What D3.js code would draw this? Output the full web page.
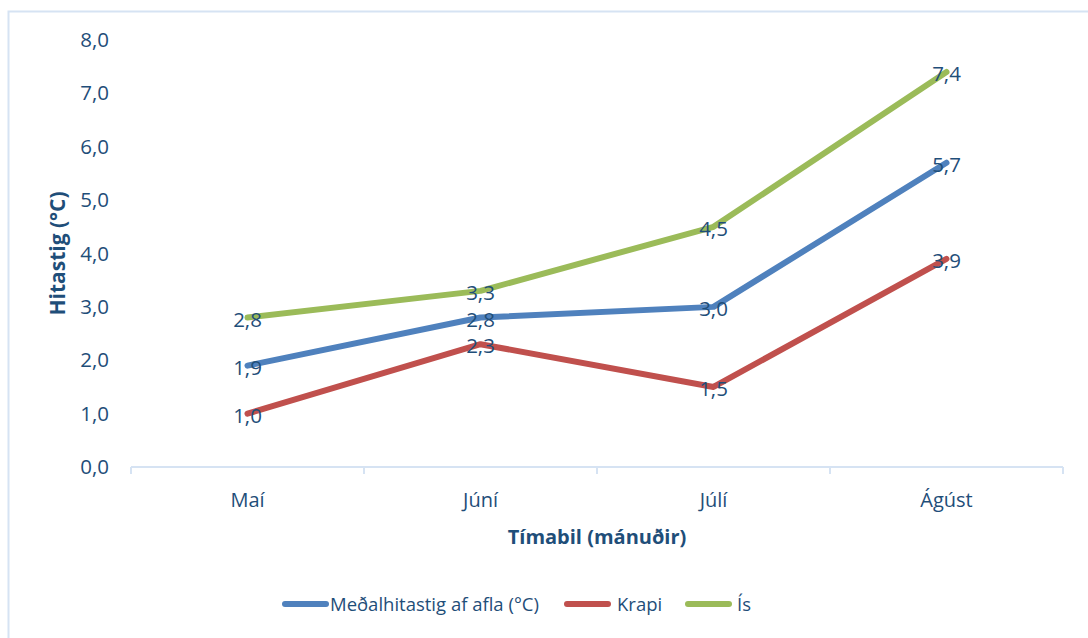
<!DOCTYPE html>
<html>
<head>
<meta charset="utf-8">
<script src="https://cdn.jsdelivr.net/npm/d3@7"></script>
<style>
  body { margin: 0; background: #fff; }
  text { font-family: "Open Sans", "Noto Sans", sans-serif; fill: #1F4E79; }
</style>
</head>
<body>
<svg id="chart"></svg>
<script>
// data
const months = ["Maí", "Júní", "Júlí", "Ágúst"];
const seriesNames = ["Meðalhitastig af afla (°C)", "Krapi", "Ís"];
const medal = [1.9, 2.8, 3.0, 5.7];
const krapi = [1.0, 2.3, 1.5, 3.9];
const is = [2.8, 3.3, 4.5, 7.4];
const yTicks = [0, 1, 2, 3, 4, 5, 6, 7, 8];
const colors = ["#4F81BD", "#C0504D", "#9BBB59"];

const width = 1088;
const height = 638;
const margin = {top: 40, right: 25, bottom: 171, left: 131};

const svg = d3.select("#chart")
    .attr("width", width)
    .attr("height", height);

// outer chart border
svg.append("rect")
    .attr("x", 8.5).attr("y", 11.5)
    .attr("width", width + 10).attr("height", height)
    .attr("fill", "none")
    .attr("stroke", "#D6E3F3")
    .attr("stroke-width", 2);

const x = d3.scaleBand()
    .domain(months)
    .range([margin.left, width - margin.right]);

const y = d3.scaleLinear()
    .domain([0, 8])
    .range([height - margin.bottom, margin.top]);

const fmt = d => d.toFixed(1).replace(".", ",");

// y axis labels (no line)
const yAxis = svg.append("g")
    .attr("transform", `translate(${margin.left},0)`)
    .call(d3.axisLeft(y).tickValues(yTicks).tickFormat(fmt).tickSize(0).tickPadding(22));
yAxis.select(".domain").remove();
yAxis.selectAll("text").style("font-size", "20.5px").attr("fill", "#1F4E79");

// x axis
const x0 = y(0);
const xAxis = svg.append("g").attr("transform", `translate(0,${x0})`);
xAxis.append("line")
    .attr("x1", x.range()[0]).attr("x2", x.range()[1])
    .attr("stroke", "#D6E3F3").attr("stroke-width", 2);
xAxis.selectAll(".tk")
    .data(months.map(m => x(m)).concat([x.range()[1]]))
    .enter().append("line")
    .attr("x1", d => d).attr("x2", d => d)
    .attr("y1", 0).attr("y2", 7)
    .attr("stroke", "#D6E3F3").attr("stroke-width", 2);
xAxis.selectAll(".lbl")
    .data(months)
    .enter().append("text")
    .attr("x", d => x(d) + x.bandwidth() / 2)
    .attr("y", 40)
    .attr("text-anchor", "middle")
    .style("font-size", "20px")
    .text(d => d);

// axis titles
svg.append("text")
    .attr("x", 597).attr("y", 544)
    .attr("text-anchor", "middle")
    .style("font-size", "20px").style("font-weight", "bold")
    .text("Tímabil (mánuðir)");
svg.append("text")
    .attr("transform", `translate(65,${(y(0) + y(8)) / 2}) rotate(-90)`)
    .attr("text-anchor", "middle")
    .style("font-size", "21px").style("font-weight", "bold")
    .text("Hitastig (°C)");

// lines
const allSeries = [medal, krapi, is];
const line = d3.line()
    .x((d, i) => x(months[i]) + x.bandwidth() / 2)
    .y(d => y(d));

allSeries.forEach((s, k) => {
    svg.append("path")
        .datum(s)
        .attr("d", line)
        .attr("fill", "none")
        .attr("stroke", colors[k])
        .attr("stroke-width", 6)
        .attr("stroke-linecap", "round")
        .attr("stroke-linejoin", "round");
});

// data labels
allSeries.forEach(s => {
    svg.append("g").selectAll("text")
        .data(s)
        .enter().append("text")
        .attr("x", (d, i) => x(months[i]) + x.bandwidth() / 2)
        .attr("y", d => y(d) + 9)
        .attr("text-anchor", "middle")
        .style("font-size", "20.5px")
        .text(fmt);
});

// legend
const legendItems = [
    {x: 285, tx: 330},
    {x: 567, tx: 617},
    {x: 688, tx: 737}
];
const lg = svg.append("g");
legendItems.forEach((it, k) => {
    lg.append("line")
        .attr("x1", it.x).attr("x2", it.x + 41)
        .attr("y1", 604).attr("y2", 604)
        .attr("stroke", colors[k])
        .attr("stroke-width", 6)
        .attr("stroke-linecap", "round");
    lg.append("text")
        .attr("x", it.tx).attr("y", 611)
        .style("font-size", "18.5px")
        .text(seriesNames[k]);
});
</script>
</body>
</html>
